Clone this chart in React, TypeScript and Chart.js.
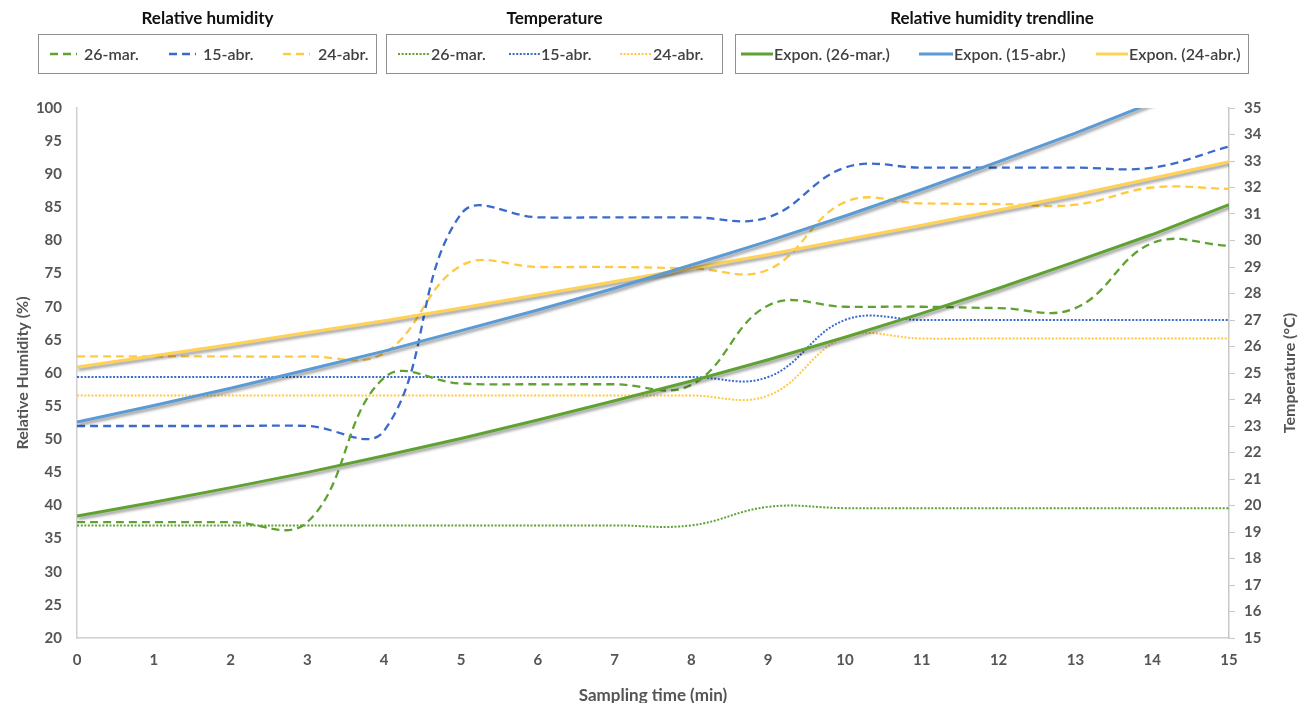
import React, { useEffect, useRef } from "react";
import { Chart, registerables } from "chart.js";

Chart.register(...registerables);

const minutes = [0, 1, 2, 3, 4, 5, 6, 7, 8, 9, 10, 11, 12, 13, 14, 15];

const rhMar26 = [37.5, 37.5, 37.5, 37.5, 59.3, 58.4, 58.3, 58.3, 58.2, 70.2, 70, 70, 69.8, 69.8, 79.6, 79.2];
const rhApr15 = [52, 52, 52, 52, 51.3, 84, 83.5, 83.5, 83.5, 83.5, 91, 91, 91, 91, 91, 94.2];
const rhApr24 = [62.5, 62.5, 62.5, 62.5, 63, 76.2, 76, 76, 75.8, 75.6, 85.8, 85.6, 85.5, 85.4, 88, 87.8];

const tempMar26 = [19.25, 19.25, 19.25, 19.25, 19.25, 19.25, 19.25, 19.25, 19.25, 19.95, 19.9, 19.9, 19.9, 19.9, 19.9, 19.9];
const tempApr15 = [24.85, 24.85, 24.85, 24.85, 24.85, 24.85, 24.85, 24.85, 24.85, 24.85, 27.0, 27.0, 27.0, 27.0, 27.0, 27.0];
const tempApr24 = [24.15, 24.15, 24.15, 24.15, 24.15, 24.15, 24.15, 24.15, 24.15, 24.15, 26.35, 26.3, 26.3, 26.3, 26.3, 26.3];

const trendMar26 = [38.4, 40.5, 42.7, 45.0, 47.5, 50.1, 52.9, 55.8, 58.8, 62.0, 65.4, 69.0, 72.8, 76.8, 80.9, 85.4];
const trendApr15 = [52.6, 55.1, 57.7, 60.5, 63.3, 66.4, 69.5, 72.8, 76.3, 79.9, 83.7, 87.7, 91.9, 96.2, 100.8, 105.6];
const trendApr24 = [60.9, 62.6, 64.3, 66.1, 67.9, 69.8, 71.8, 73.8, 75.8, 77.9, 80.1, 82.3, 84.6, 86.9, 89.4, 91.9];

const rhTicksMin = 20;
const rhTicksMax = 100;
const tempTicksMin = 15;
const tempTicksMax = 35;

const GREEN = "#5fa232";
const BLUE_DARK = "#3a6bcc";
const BLUE_LIGHT = "#5b9bd5";
const YELLOW = "#ffc940";
const YELLOW_TREND = "#ffd257";
const TEXT = "#555555";
const FONT = "Lato, 'Open Sans', sans-serif";

const DASH = [8, 5];
const DOT = [2, 1.6];

const pts = (ys: number[]) => minutes.map((x, i) => ({ x, y: ys[i] }));

const shadowPlugin = {
  id: "trendShadow",
  beforeDatasetDraw(chart: any, args: any) {
    const ds = chart.data.datasets[args.index];
    if (ds && ds.isTrend) {
      const ctx = chart.ctx;
      ctx.save();
      ctx.shadowColor = "rgba(0,0,0,0.4)";
      ctx.shadowBlur = 3;
      ctx.shadowOffsetX = 1.5;
      ctx.shadowOffsetY = 2.5;
    }
  },
  afterDatasetDraw(chart: any, args: any) {
    const ds = chart.data.datasets[args.index];
    if (ds && ds.isTrend) chart.ctx.restore();
  },
};

const axisTitlePlugin = {
  id: "axisTitles",
  afterDraw(chart: any) {
    const ctx = chart.ctx;
    const area = chart.chartArea;
    const midY = (area.top + area.bottom) / 2;
    ctx.save();
    ctx.fillStyle = TEXT;
    ctx.font = `bold 16px ${FONT}`;
    ctx.textAlign = "center";
    ctx.textBaseline = "middle";
    ctx.save();
    ctx.translate(23, midY);
    ctx.rotate(-Math.PI / 2);
    ctx.fillText("Relative Humidity (%)", 0, 0);
    ctx.restore();
    ctx.save();
    ctx.translate(1290, midY);
    ctx.rotate(-Math.PI / 2);
    ctx.fillText("Temperature (°C)", 0, 0);
    ctx.restore();
    ctx.font = `bold 17px ${FONT}`;
    ctx.fillText("Sampling time (min)", (area.left + area.right) / 2, 696);
    ctx.restore();
  },
};

function Sample({ color, dash, width, len }: { color: string; dash?: string; width: number; len: number }) {
  return (
    <svg width={len} height={10} style={{ display: "block" }}>
      <line x1={0} y1={5} x2={len} y2={5} stroke={color} strokeWidth={width} strokeDasharray={dash} />
    </svg>
  );
}

const legendItems = [
  { sx: 50, len: 27, tx: 84, color: GREEN, dash: "8 5", width: 2.5, label: "26-mar." },
  { sx: 169, len: 27, tx: 203, color: BLUE_DARK, dash: "8 5", width: 2.5, label: "15-abr." },
  { sx: 283, len: 27, tx: 318, color: YELLOW, dash: "8 5", width: 2.5, label: "24-abr." },
  { sx: 398, len: 31, tx: 431, color: GREEN, dash: "2 1.6", width: 2, label: "26-mar." },
  { sx: 509, len: 31, tx: 541, color: BLUE_DARK, dash: "2 1.6", width: 2, label: "15-abr." },
  { sx: 620, len: 31, tx: 653, color: YELLOW, dash: "2 1.6", width: 2, label: "24-abr." },
  { sx: 741, len: 32, tx: 774, color: GREEN, dash: undefined, width: 3, label: "Expon. (26-mar.)" },
  { sx: 919, len: 34, tx: 954, color: BLUE_LIGHT, dash: undefined, width: 3, label: "Expon. (15-abr.)" },
  { sx: 1096, len: 32, tx: 1129, color: YELLOW_TREND, dash: undefined, width: 3, label: "Expon. (24-abr.)" },
];

const legendBoxes = [
  { left: 38, width: 339, title: "Relative humidity" },
  { left: 386, width: 337, title: "Temperature" },
  { left: 735, width: 514, title: "Relative humidity trendline" },
];

export default function App() {
  const canvasRef = useRef<HTMLCanvasElement | null>(null);

  useEffect(() => {
    const canvas = canvasRef.current;
    if (!canvas) return;
    const line = (label: string, data: number[], color: string, dash: number[], width: number, axis: string, extra: any = {}) => ({
      label,
      data: pts(data),
      borderColor: color,
      backgroundColor: color,
      borderDash: dash,
      borderWidth: width,
      pointRadius: 0,
      tension: 0.4,
      fill: false,
      yAxisID: axis,
      order: 1,
      ...extra,
    });
    const tickFont = { family: FONT, size: 15, weight: "bold" };
    const chart = new Chart(canvas, {
      type: "line",
      data: {
        datasets: [
          line("Expon. (26-mar.)", trendMar26, GREEN, [], 3, "y", { isTrend: true, order: 0, tension: 0 }),
          line("Expon. (15-abr.)", trendApr15, BLUE_LIGHT, [], 3, "y", { isTrend: true, order: 0, tension: 0 }),
          line("Expon. (24-abr.)", trendApr24, YELLOW_TREND, [], 3, "y", { isTrend: true, order: 0, tension: 0 }),
          line("RH 26-mar.", rhMar26, GREEN, DASH, 2.3, "y"),
          line("RH 15-abr.", rhApr15, BLUE_DARK, DASH, 2.3, "y"),
          line("RH 24-abr.", rhApr24, YELLOW, DASH, 2.3, "y"),
          line("T 26-mar.", tempMar26, GREEN, DOT, 2, "y1"),
          line("T 15-abr.", tempApr15, BLUE_DARK, DOT, 2, "y1"),
          line("T 24-abr.", tempApr24, YELLOW, DOT, 2, "y1"),
        ] as any,
      },
      options: {
        animation: false,
        responsive: false,
        maintainAspectRatio: false,
        devicePixelRatio: 1,
        layout: { padding: { top: 108, left: 0, right: 0, bottom: 0 } },
        plugins: { legend: { display: false }, tooltip: { enabled: false } },
        scales: {
          x: {
            type: "linear",
            min: 0,
            max: 15,
            ticks: { stepSize: 1, color: TEXT, font: tickFont, padding: 13 },
            grid: { display: false, drawTicks: false },
            border: { color: "#d0d0d0", width: 1.5 },
            afterFit: (s: any) => { s.height = 65; },
          },
          y: {
            position: "left",
            min: rhTicksMin,
            max: rhTicksMax,
            ticks: { stepSize: 5, color: TEXT, font: tickFont, padding: 15 },
            grid: { display: false, drawTicks: false },
            border: { color: "#d0d0d0", width: 1.5 },
            afterFit: (s: any) => { s.width = 77; },
          },
          y1: {
            position: "right",
            min: tempTicksMin,
            max: tempTicksMax,
            ticks: { stepSize: 1, color: TEXT, font: tickFont, padding: 9 },
            grid: { display: true, drawOnChartArea: false, drawTicks: true, tickLength: 6, color: "#c8c8c8" },
            border: { color: "#c8c8c8", width: 1.5 },
            afterFit: (s: any) => { s.width = 69; },
          },
        },
      } as any,
      plugins: [shadowPlugin, axisTitlePlugin],
    });
    return () => chart.destroy();
  }, []);

  return (
    <div style={{ position: "fixed", left: 0, top: 0, width: 1298, height: 703, background: "#fff", fontFamily: FONT }}>
      <canvas ref={canvasRef} width={1298} height={703} style={{ position: "absolute", left: 0, top: 0 }} />
      {legendBoxes.map((b, i) => (
        <React.Fragment key={"b" + i}>
          <div
            style={{
              position: "absolute",
              left: b.left,
              width: b.width,
              top: 7,
              textAlign: "center",
              fontWeight: 700,
              fontSize: 17,
              color: "#111",
              lineHeight: "22px",
            }}
          >
            {b.title}
          </div>
          <div
            style={{
              position: "absolute",
              left: b.left,
              top: 34,
              width: b.width,
              height: 40,
              border: "1.5px solid #8f8f8f",
              boxSizing: "border-box",
              background: "#fff",
            }}
          />
        </React.Fragment>
      ))}
      {legendItems.map((it, i) => (
        <React.Fragment key={"i" + i}>
          <div style={{ position: "absolute", left: it.sx, top: 49 }}>
            <Sample color={it.color} dash={it.dash} width={it.width} len={it.len} />
          </div>
          <div
            style={{
              position: "absolute",
              left: it.tx,
              top: 43,
              lineHeight: "22px",
              fontSize: 16,
              fontWeight: 600,
              color: "#404040",
              whiteSpace: "nowrap",
            }}
          >
            {it.label}
          </div>
        </React.Fragment>
      ))}
    </div>
  );
}
